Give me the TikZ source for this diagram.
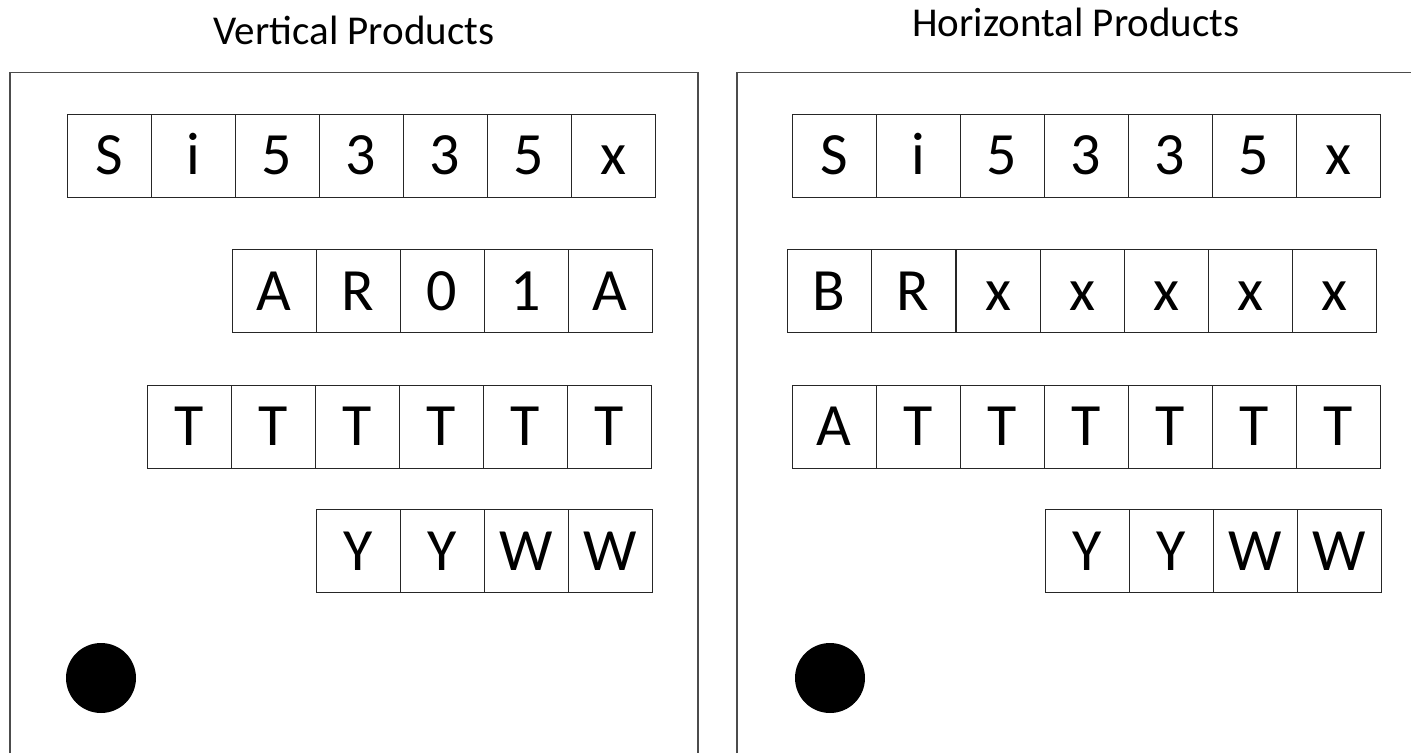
\documentclass[tikz,border=0pt]{standalone}
\usepackage{fontspec}
\setmainfont{Carlito}
\usetikzlibrary{positioning}

\begin{document}
\begin{tikzpicture}[x=1pt,y=-1pt,node distance=0pt,
	cell/.style={draw=black!85,line width=1pt,outer sep=0pt,inner sep=0pt,
		minimum width=84pt,minimum height=83pt,text height=38.6pt,text depth=0pt,
		font=\fontsize{60}{72}\selectfont},
	heading/.style={anchor=base,font=\fontsize{41}{49}\selectfont},
	frame/.style={draw=black!70,line width=1.2pt},
	dot/.style={circle,fill=black,minimum size=70pt,inner sep=0pt}]
	\useasboundingbox (0,0) rectangle (1411,753);
	%
	\draw[frame] (10,753) -- (10,72.5) -- (698,72.5) -- (698,753);
	\draw[frame] (737,753) -- (737,72.5) -- (1411,72.5);
	\node[heading] (vtitle) at (354,44) {Vertical Products};
	\node[heading] (htitle) at (1076,36) {Horizontal Products};
	%
	\node[cell,anchor=west] (s1) at (67,155.5) {S};
	\node[cell,right=of s1] (s2) {i};
	\node[cell,right=of s2] (s3) {5};
	\node[cell,right=of s3] (s4) {3};
	\node[cell,right=of s4] (s5) {3};
	\node[cell,right=of s5] (s6) {5};
	\node[cell,right=of s6] (s7) {x};
	%
	\node[cell,anchor=west] (r1) at (232,291) {A};
	\node[cell,right=of r1] (r2) {R};
	\node[cell,right=of r2] (r3) {0};
	\node[cell,right=of r3] (r4) {1};
	\node[cell,right=of r4] (r5) {A};
	%
	\node[cell,anchor=west] (t1) at (147,426.5) {T};
	\node[cell,right=of t1] (t2) {T};
	\node[cell,right=of t2] (t3) {T};
	\node[cell,right=of t3] (t4) {T};
	\node[cell,right=of t4] (t5) {T};
	\node[cell,right=of t5] (t6) {T};
	%
	\node[cell,anchor=west] (w1) at (316,551) {Y};
	\node[cell,right=of w1] (w2) {Y};
	\node[cell,right=of w2] (w3) {W};
	\node[cell,right=of w3] (w4) {W};
	%
	\node[dot] (vdot) at (101,678) {};
	%
	\node[cell,anchor=west] (hs1) at (792,155.5) {S};
	\node[cell,right=of hs1] (hs2) {i};
	\node[cell,right=of hs2] (hs3) {5};
	\node[cell,right=of hs3] (hs4) {3};
	\node[cell,right=of hs4] (hs5) {3};
	\node[cell,right=of hs5] (hs6) {5};
	\node[cell,right=of hs6] (hs7) {x};
	%
	\node[cell,anchor=west] (hr1) at (787,291) {B};
	\node[cell,right=of hr1] (hr2) {R};
	\node[cell,right=1.5pt of hr2] (hr3) {x};
	\node[cell,right=of hr3] (hr4) {x};
	\node[cell,right=of hr4] (hr5) {x};
	\node[cell,right=of hr5] (hr6) {x};
	\node[cell,right=of hr6] (hr7) {x};
	%
	\node[cell,anchor=west] (ht1) at (792,426.5) {A};
	\node[cell,right=of ht1] (ht2) {T};
	\node[cell,right=of ht2] (ht3) {T};
	\node[cell,right=of ht3] (ht4) {T};
	\node[cell,right=of ht4] (ht5) {T};
	\node[cell,right=of ht5] (ht6) {T};
	\node[cell,right=of ht6] (ht7) {T};
	%
	\node[cell,anchor=west] (hw1) at (1045,551) {Y};
	\node[cell,right=of hw1] (hw2) {Y};
	\node[cell,right=of hw2] (hw3) {W};
	\node[cell,right=of hw3] (hw4) {W};
	%
	\node[dot] (hdot) at (830,678) {};
\end{tikzpicture}
\end{document}
